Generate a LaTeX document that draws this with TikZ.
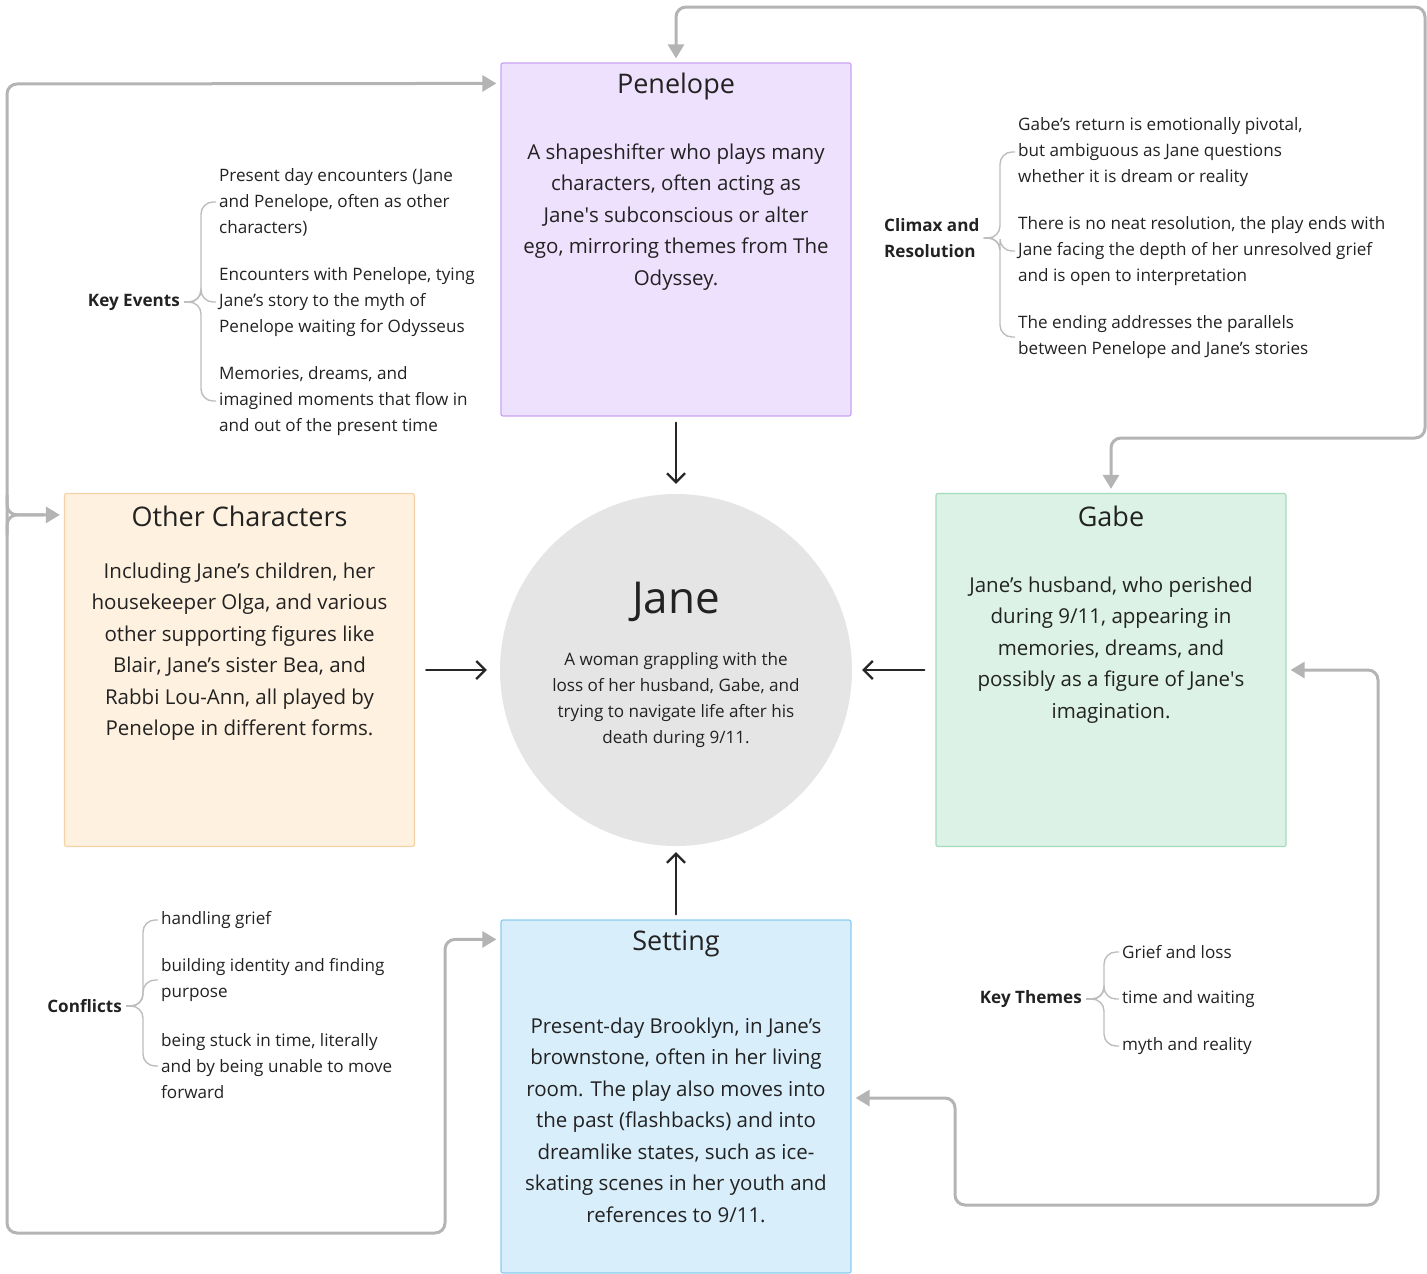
\documentclass[tikz,border=0pt]{standalone}
\usepackage{fontspec}
\setmainfont{Open Sans}
\usetikzlibrary{positioning,arrows.meta}
\definecolor{textColor}{HTML}{222222}
\definecolor{loopColor}{HTML}{B4B4B4}
\definecolor{branchColor}{HTML}{BDBDBD}
\definecolor{penelopeFill}{HTML}{EEE1FD}
\definecolor{penelopeBorder}{HTML}{C9A3F2}
\definecolor{otherFill}{HTML}{FFF1DF}
\definecolor{otherBorder}{HTML}{F3D2A6}
\definecolor{gabeFill}{HTML}{DCF2E6}
\definecolor{gabeBorder}{HTML}{A4DCBB}
\definecolor{settingFill}{HTML}{D9EEFB}
\definecolor{settingBorder}{HTML}{8CCCEE}
\definecolor{janeFill}{HTML}{E5E5E5}
\newcommand{\titleFont}{\fontsize{27}{32}\selectfont}
\newcommand{\bodyFont}{\fontsize{20.5}{31.5}\selectfont}
\newcommand{\smallFont}{\fontsize{17.1}{26}\selectfont}
\tikzstyle{characterBox} = [draw, line width=1.2, rounded corners=2, minimum width=350, minimum height=353, inner sep=0]
\tikzstyle{boxTitle} = [text=textColor, font=\titleFont, inner sep=0]
\tikzstyle{boxText} = [text=textColor, font=\bodyFont, align=center, inner sep=0]
\tikzstyle{rootText} = [text=textColor, font=\smallFont\bfseries, align=left, inner sep=0]
\tikzstyle{itemText} = [text=textColor, font=\smallFont, align=left, anchor=west, inner sep=0]
\tikzstyle{loopLine} = [color=loopColor, line width=3, rounded corners=10]
\tikzstyle{loopTip} = [{Triangle[length=14,width=16]}-{Triangle[length=14,width=16]}]
\tikzstyle{handArrow} = [-{Straight Barb[length=9,width=18]}, line width=2.2, line cap=round, color=black!85]
\tikzstyle{branchLine} = [color=branchColor, line width=1.4, rounded corners=12]
\newcommand{\branchLink}[2]{\draw [branchLine] ([xshift=4pt]#1.east) -| ([xshift=-18pt]#2.west) -- ([xshift=-3pt]#2.west);}

\begin{document}
\begin{tikzpicture}[x=1pt, y=-1pt]
  \useasboundingbox (0,0) rectangle (1427,1274);

  \node [characterBox, fill=penelopeFill, draw=penelopeBorder] (penelope) at (676,239.5) {};
  \node [characterBox, fill=otherFill, draw=otherBorder] (otherChars) at (239.5,670) {};
  \node [characterBox, fill=gabeFill, draw=gabeBorder] (gabe) at (1111,670) {};
  \node [characterBox, fill=settingFill, draw=settingBorder] (setting) at (676,1096.5) {};
  \node [circle, fill=janeFill, minimum size=352, inner sep=0] (jane) at (676,670) {};

  \node [boxTitle] (penelopeTitle) at (676,86) {Penelope};
  \node [boxText] (penelopeText) at (676,217) {A shapeshifter who plays many\\characters, often acting as\\Jane\textquotesingle s subconscious or alter\\ego, mirroring themes from The\\Odyssey.};
  \node [boxTitle] (otherTitle) at (239.5,516) {Other Characters};
  \node [boxText] (otherText) at (239.5,651.5) {Including Jane’s children, her\\housekeeper Olga, and various\\other supporting figures like\\Blair, Jane’s sister Bea, and\\Rabbi Lou-Ann, all played by\\Penelope in different forms.};
  \node [boxTitle] (gabeTitle) at (1111,516) {Gabe};
  \node [boxText] (gabeText) at (1111,650) {Jane’s husband, who perished\\during 9/11, appearing in\\memories, dreams, and\\possibly as a figure of Jane\textquotesingle s\\imagination.};
  \node [boxTitle] (settingTitle) at (676,944) {Setting};
  \node [boxText] (settingText) at (676,1120) {Present-day Brooklyn, in Jane’s\\brownstone, often in her living\\room. The play also moves into\\the past (flashbacks) and into\\dreamlike states, such as ice-\\skating scenes in her youth and\\references to 9/11.};
  \node [text=textColor, font=\fontsize{44}{50}\selectfont, inner sep=0] (janeTitle) at (676,602) {Jane};
  \node [text=textColor, font=\smallFont, align=center, inner sep=0] (janeText) at (676,700) {A woman grappling with the\\loss of her husband, Gabe, and\\trying to navigate life after his\\death during 9/11.};

  \node [rootText, anchor=east] (keyEvents) at (180,302) {Key Events};
  \node [itemText] (eventOne) at (219,202) {Present day encounters (Jane\\and Penelope, often as other\\characters)};
  \node [itemText] (eventTwo) at (219,302) {Encounters with Penelope, tying\\Jane’s story to the myth of\\Penelope waiting for Odysseus};
  \node [itemText] (eventThree) at (219,401) {Memories, dreams, and\\imagined moments that flow in\\and out of the present time};
  \branchLink{keyEvents}{eventOne}
  \branchLink{keyEvents}{eventTwo}
  \branchLink{keyEvents}{eventThree}

  \node [rootText, anchor=west] (climax) at (884,238) {Climax and\\Resolution};
  \node [itemText] (climaxOne) at (1018,152) {Gabe’s return is emotionally pivotal,\\but ambiguous as Jane questions\\whether it is dream or reality};
  \node [itemText] (climaxTwo) at (1018,251) {There is no neat resolution, the play ends with\\Jane facing the depth of her unresolved grief\\and is open to interpretation};
  \node [itemText] (climaxThree) at (1018,337) {The ending addresses the parallels\\between Penelope and Jane’s stories};
  \branchLink{climax}{climaxOne}
  \branchLink{climax}{climaxTwo}
  \branchLink{climax}{climaxThree}

  \node [rootText, anchor=east] (conflicts) at (122,1006) {Conflicts};
  \node [itemText] (conflictOne) at (161,920) {handling grief};
  \node [itemText] (conflictTwo) at (161,980) {building identity and finding\\purpose};
  \node [itemText] (conflictThree) at (161,1066) {being stuck in time, literally\\and by being unable to move\\forward};
  \branchLink{conflicts}{conflictOne}
  \branchLink{conflicts}{conflictTwo}
  \branchLink{conflicts}{conflictThree}

  \node [rootText, anchor=east] (keyThemes) at (1082,999) {Key Themes};
  \node [itemText] (themeOne) at (1122,952) {Grief and loss};
  \node [itemText] (themeTwo) at (1122,999) {time and waiting};
  \node [itemText] (themeThree) at (1122,1046) {myth and reality};
  \branchLink{keyThemes}{themeOne}
  \branchLink{keyThemes}{themeTwo}
  \branchLink{keyThemes}{themeThree}

  \coordinate (leftBus) at (7,515);
  \draw [loopLine, loopTip] ([shift={(-4pt,-20pt)}]setting.north west) -| (445,1233) -| (7,84) -- ([shift={(-4pt,-21pt)}]penelope.north west);
  \draw [loopLine, -{Triangle[length=14,width=16]}] ([yshift=20pt]leftBus) |- ([shift={(-4pt,-22pt)}]otherChars.north west);
  \draw [loopLine] ([yshift=-20pt]leftBus) |- ([shift={(-20pt,-22pt)}]otherChars.north west);
  \draw [loopLine, loopTip] ([yshift=4pt]penelope.north) |- (1425,7) |- (1111,438) -- ([yshift=4pt]gabe.north);
  \draw [loopLine, loopTip] ([xshift=4pt]gabe.east) -| (1378,1205) -| (955,1098) -- ([xshift=4pt]setting.east |- 0,1098);

  \draw [handArrow] ([yshift=-6pt]penelope.south) -- ([yshift=10pt]jane.north);
  \draw [handArrow] ([xshift=11pt]otherChars.east) -- ([xshift=-13pt]jane.west);
  \draw [handArrow] ([xshift=-11pt]gabe.west) -- ([xshift=10pt]jane.east);
  \draw [handArrow] ([yshift=5pt]setting.north) -- ([yshift=-6pt]jane.south);
\end{tikzpicture}
\end{document}
